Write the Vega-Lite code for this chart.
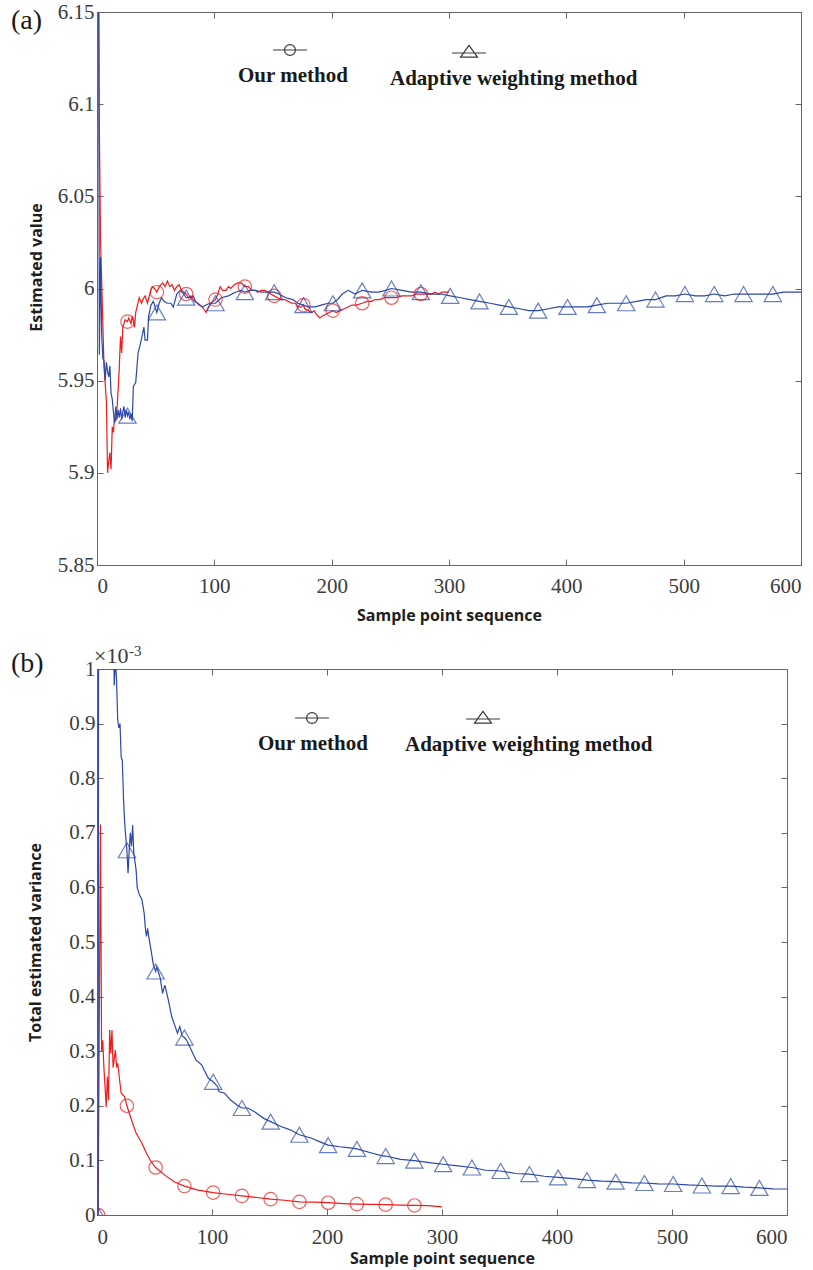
{
  "$schema": "https://vega.github.io/schema/vega-lite/v6.json",
  "padding": {"left": 10, "top": 0, "right": 5, "bottom": 0},
  "spacing": 19,
  "config": {
    "view": {"stroke": "#666", "strokeWidth": 1},
    "axis": {"labelFont": "Liberation Serif", "labelFontSize": 21, "labelColor": "#3c3c3c", "titleFont": "Open Sans", "titleFontSize": 16, "titleFontWeight": "bold", "titleColor": "#1e1e1e", "domainColor": "#666", "tickColor": "#666", "tickSize": -6, "grid": false},
    "style": {"guide-label": {"lineHeight": 52}},
    "legend": {"title": null, "orient": "none", "padding": 0, "symbolSize": 1156, "symbolStrokeColor": "#3a3a3a", "symbolFillColor": "transparent", "symbolStrokeWidth": 1.2, "symbolOpacity": 1, "labelFont": "Liberation Serif", "labelFontSize": 21, "labelFontWeight": "bold", "labelColor": "#1a1a1a", "labelBaseline": "line-top", "labelAlign": "left", "labelLimit": 0}
  },
  "datasets": {
    "a": [
      {"method": "Our method", "x": 1, "y": 6.22},
      {"method": "Our method", "x": 2, "y": 6.086},
      {"method": "Our method", "x": 3, "y": 6.027},
      {"method": "Our method", "x": 6, "y": 5.957},
      {"method": "Our method", "x": 8, "y": 5.939},
      {"method": "Our method", "x": 9, "y": 5.9},
      {"method": "Our method", "x": 10, "y": 5.906},
      {"method": "Our method", "x": 11, "y": 5.911},
      {"method": "Our method", "x": 12, "y": 5.902},
      {"method": "Our method", "x": 13, "y": 5.925},
      {"method": "Our method", "x": 14, "y": 5.922},
      {"method": "Our method", "x": 15, "y": 5.93},
      {"method": "Our method", "x": 16, "y": 5.928},
      {"method": "Our method", "x": 17, "y": 5.934},
      {"method": "Our method", "x": 18, "y": 5.945},
      {"method": "Our method", "x": 19, "y": 5.957},
      {"method": "Our method", "x": 20, "y": 5.974},
      {"method": "Our method", "x": 21, "y": 5.965},
      {"method": "Our method", "x": 22, "y": 5.979},
      {"method": "Our method", "x": 24, "y": 5.983},
      {"method": "Our method", "x": 26, "y": 5.982},
      {"method": "Our method", "x": 27, "y": 5.984},
      {"method": "Our method", "x": 29, "y": 5.981},
      {"method": "Our method", "x": 30, "y": 5.985},
      {"method": "Our method", "x": 32, "y": 5.979},
      {"method": "Our method", "x": 33, "y": 5.987},
      {"method": "Our method", "x": 36, "y": 5.995},
      {"method": "Our method", "x": 38, "y": 5.992},
      {"method": "Our method", "x": 39, "y": 5.994},
      {"method": "Our method", "x": 41, "y": 5.996},
      {"method": "Our method", "x": 43, "y": 5.992},
      {"method": "Our method", "x": 45, "y": 5.997},
      {"method": "Our method", "x": 47, "y": 6.001},
      {"method": "Our method", "x": 49, "y": 6.0},
      {"method": "Our method", "x": 51, "y": 5.998},
      {"method": "Our method", "x": 53, "y": 6.001},
      {"method": "Our method", "x": 56, "y": 6.003},
      {"method": "Our method", "x": 58, "y": 6.001},
      {"method": "Our method", "x": 60, "y": 6.004},
      {"method": "Our method", "x": 62, "y": 6.001},
      {"method": "Our method", "x": 64, "y": 6.002},
      {"method": "Our method", "x": 66, "y": 5.999},
      {"method": "Our method", "x": 68, "y": 6.001},
      {"method": "Our method", "x": 70, "y": 6.002},
      {"method": "Our method", "x": 72, "y": 5.999},
      {"method": "Our method", "x": 74, "y": 5.998},
      {"method": "Our method", "x": 76, "y": 5.997},
      {"method": "Our method", "x": 78, "y": 5.995},
      {"method": "Our method", "x": 80, "y": 5.996},
      {"method": "Our method", "x": 83, "y": 5.993},
      {"method": "Our method", "x": 86, "y": 5.992},
      {"method": "Our method", "x": 88, "y": 5.991},
      {"method": "Our method", "x": 91, "y": 5.989},
      {"method": "Our method", "x": 93, "y": 5.987},
      {"method": "Our method", "x": 95, "y": 5.99},
      {"method": "Our method", "x": 97, "y": 5.992},
      {"method": "Our method", "x": 99, "y": 5.993},
      {"method": "Our method", "x": 101, "y": 5.994},
      {"method": "Our method", "x": 103, "y": 5.997},
      {"method": "Our method", "x": 105, "y": 6.001},
      {"method": "Our method", "x": 107, "y": 5.999},
      {"method": "Our method", "x": 110, "y": 5.999},
      {"method": "Our method", "x": 112, "y": 6.001},
      {"method": "Our method", "x": 114, "y": 6.0},
      {"method": "Our method", "x": 117, "y": 6.002},
      {"method": "Our method", "x": 120, "y": 6.003},
      {"method": "Our method", "x": 123, "y": 6.003},
      {"method": "Our method", "x": 126, "y": 6.001},
      {"method": "Our method", "x": 129, "y": 6.001},
      {"method": "Our method", "x": 132, "y": 5.999},
      {"method": "Our method", "x": 135, "y": 5.999},
      {"method": "Our method", "x": 137, "y": 5.998},
      {"method": "Our method", "x": 140, "y": 5.999},
      {"method": "Our method", "x": 143, "y": 5.999},
      {"method": "Our method", "x": 146, "y": 5.998},
      {"method": "Our method", "x": 148, "y": 5.997},
      {"method": "Our method", "x": 151, "y": 5.996},
      {"method": "Our method", "x": 154, "y": 5.995},
      {"method": "Our method", "x": 157, "y": 5.994},
      {"method": "Our method", "x": 160, "y": 5.994},
      {"method": "Our method", "x": 163, "y": 5.993},
      {"method": "Our method", "x": 166, "y": 5.992},
      {"method": "Our method", "x": 169, "y": 5.992},
      {"method": "Our method", "x": 171, "y": 5.99},
      {"method": "Our method", "x": 174, "y": 5.99},
      {"method": "Our method", "x": 176, "y": 5.991},
      {"method": "Our method", "x": 177, "y": 5.989},
      {"method": "Our method", "x": 180, "y": 5.988},
      {"method": "Our method", "x": 183, "y": 5.987},
      {"method": "Our method", "x": 185, "y": 5.988},
      {"method": "Our method", "x": 187, "y": 5.986},
      {"method": "Our method", "x": 190, "y": 5.984},
      {"method": "Our method", "x": 192, "y": 5.985},
      {"method": "Our method", "x": 195, "y": 5.986},
      {"method": "Our method", "x": 198, "y": 5.987},
      {"method": "Our method", "x": 201, "y": 5.988},
      {"method": "Our method", "x": 204, "y": 5.987},
      {"method": "Our method", "x": 207, "y": 5.988},
      {"method": "Our method", "x": 211, "y": 5.989},
      {"method": "Our method", "x": 214, "y": 5.99},
      {"method": "Our method", "x": 217, "y": 5.991},
      {"method": "Our method", "x": 221, "y": 5.991},
      {"method": "Our method", "x": 226, "y": 5.992},
      {"method": "Our method", "x": 230, "y": 5.993},
      {"method": "Our method", "x": 234, "y": 5.993},
      {"method": "Our method", "x": 237, "y": 5.994},
      {"method": "Our method", "x": 241, "y": 5.994},
      {"method": "Our method", "x": 245, "y": 5.995},
      {"method": "Our method", "x": 249, "y": 5.995},
      {"method": "Our method", "x": 251, "y": 5.995},
      {"method": "Our method", "x": 255, "y": 5.995},
      {"method": "Our method", "x": 260, "y": 5.996},
      {"method": "Our method", "x": 264, "y": 5.996},
      {"method": "Our method", "x": 268, "y": 5.996},
      {"method": "Our method", "x": 272, "y": 5.997},
      {"method": "Our method", "x": 276, "y": 5.997},
      {"method": "Our method", "x": 280, "y": 5.997},
      {"method": "Our method", "x": 285, "y": 5.997},
      {"method": "Our method", "x": 288, "y": 5.998},
      {"method": "Our method", "x": 291, "y": 5.997},
      {"method": "Our method", "x": 294, "y": 5.998},
      {"method": "Our method", "x": 297, "y": 5.998},
      {"method": "Our method", "x": 300, "y": 5.998},
      {"method": "Adaptive weighting method", "x": 1, "y": 6.3},
      {"method": "Adaptive weighting method", "x": 2, "y": 5.964},
      {"method": "Adaptive weighting method", "x": 3, "y": 6.017},
      {"method": "Adaptive weighting method", "x": 4, "y": 5.975},
      {"method": "Adaptive weighting method", "x": 5, "y": 5.962},
      {"method": "Adaptive weighting method", "x": 6, "y": 5.961},
      {"method": "Adaptive weighting method", "x": 7, "y": 5.95},
      {"method": "Adaptive weighting method", "x": 8, "y": 5.96},
      {"method": "Adaptive weighting method", "x": 9, "y": 5.955},
      {"method": "Adaptive weighting method", "x": 10, "y": 5.952},
      {"method": "Adaptive weighting method", "x": 11, "y": 5.958},
      {"method": "Adaptive weighting method", "x": 12, "y": 5.943},
      {"method": "Adaptive weighting method", "x": 13, "y": 5.94},
      {"method": "Adaptive weighting method", "x": 14, "y": 5.933},
      {"method": "Adaptive weighting method", "x": 15, "y": 5.927},
      {"method": "Adaptive weighting method", "x": 16, "y": 5.936},
      {"method": "Adaptive weighting method", "x": 17, "y": 5.929},
      {"method": "Adaptive weighting method", "x": 18, "y": 5.934},
      {"method": "Adaptive weighting method", "x": 19, "y": 5.93},
      {"method": "Adaptive weighting method", "x": 20, "y": 5.935},
      {"method": "Adaptive weighting method", "x": 21, "y": 5.929},
      {"method": "Adaptive weighting method", "x": 22, "y": 5.933},
      {"method": "Adaptive weighting method", "x": 23, "y": 5.936},
      {"method": "Adaptive weighting method", "x": 24, "y": 5.93},
      {"method": "Adaptive weighting method", "x": 25, "y": 5.934},
      {"method": "Adaptive weighting method", "x": 26, "y": 5.931},
      {"method": "Adaptive weighting method", "x": 27, "y": 5.933},
      {"method": "Adaptive weighting method", "x": 28, "y": 5.929},
      {"method": "Adaptive weighting method", "x": 29, "y": 5.932},
      {"method": "Adaptive weighting method", "x": 30, "y": 5.928},
      {"method": "Adaptive weighting method", "x": 31, "y": 5.947},
      {"method": "Adaptive weighting method", "x": 33, "y": 5.949},
      {"method": "Adaptive weighting method", "x": 35, "y": 5.965},
      {"method": "Adaptive weighting method", "x": 37, "y": 5.97},
      {"method": "Adaptive weighting method", "x": 40, "y": 5.979},
      {"method": "Adaptive weighting method", "x": 41, "y": 5.972},
      {"method": "Adaptive weighting method", "x": 43, "y": 5.972},
      {"method": "Adaptive weighting method", "x": 44, "y": 5.985},
      {"method": "Adaptive weighting method", "x": 46, "y": 5.991},
      {"method": "Adaptive weighting method", "x": 48, "y": 5.993},
      {"method": "Adaptive weighting method", "x": 51, "y": 5.987},
      {"method": "Adaptive weighting method", "x": 53, "y": 5.992},
      {"method": "Adaptive weighting method", "x": 55, "y": 5.995},
      {"method": "Adaptive weighting method", "x": 57, "y": 5.993},
      {"method": "Adaptive weighting method", "x": 60, "y": 5.992},
      {"method": "Adaptive weighting method", "x": 63, "y": 5.992},
      {"method": "Adaptive weighting method", "x": 65, "y": 5.99},
      {"method": "Adaptive weighting method", "x": 68, "y": 5.997},
      {"method": "Adaptive weighting method", "x": 71, "y": 5.999},
      {"method": "Adaptive weighting method", "x": 74, "y": 5.997},
      {"method": "Adaptive weighting method", "x": 76, "y": 5.995},
      {"method": "Adaptive weighting method", "x": 79, "y": 5.995},
      {"method": "Adaptive weighting method", "x": 82, "y": 5.996},
      {"method": "Adaptive weighting method", "x": 84, "y": 5.993},
      {"method": "Adaptive weighting method", "x": 87, "y": 5.991},
      {"method": "Adaptive weighting method", "x": 90, "y": 5.99},
      {"method": "Adaptive weighting method", "x": 93, "y": 5.991},
      {"method": "Adaptive weighting method", "x": 96, "y": 5.992},
      {"method": "Adaptive weighting method", "x": 101, "y": 5.992},
      {"method": "Adaptive weighting method", "x": 106, "y": 5.995},
      {"method": "Adaptive weighting method", "x": 112, "y": 5.996},
      {"method": "Adaptive weighting method", "x": 118, "y": 5.998},
      {"method": "Adaptive weighting method", "x": 123, "y": 5.999},
      {"method": "Adaptive weighting method", "x": 126, "y": 5.998},
      {"method": "Adaptive weighting method", "x": 130, "y": 5.999},
      {"method": "Adaptive weighting method", "x": 135, "y": 5.999},
      {"method": "Adaptive weighting method", "x": 140, "y": 5.998},
      {"method": "Adaptive weighting method", "x": 146, "y": 5.998},
      {"method": "Adaptive weighting method", "x": 151, "y": 5.998},
      {"method": "Adaptive weighting method", "x": 155, "y": 5.997},
      {"method": "Adaptive weighting method", "x": 161, "y": 5.995},
      {"method": "Adaptive weighting method", "x": 167, "y": 5.994},
      {"method": "Adaptive weighting method", "x": 171, "y": 5.992},
      {"method": "Adaptive weighting method", "x": 176, "y": 5.991},
      {"method": "Adaptive weighting method", "x": 180, "y": 5.99},
      {"method": "Adaptive weighting method", "x": 186, "y": 5.99},
      {"method": "Adaptive weighting method", "x": 191, "y": 5.991},
      {"method": "Adaptive weighting method", "x": 197, "y": 5.992},
      {"method": "Adaptive weighting method", "x": 201, "y": 5.992},
      {"method": "Adaptive weighting method", "x": 205, "y": 5.994},
      {"method": "Adaptive weighting method", "x": 209, "y": 5.997},
      {"method": "Adaptive weighting method", "x": 214, "y": 5.999},
      {"method": "Adaptive weighting method", "x": 220, "y": 5.997},
      {"method": "Adaptive weighting method", "x": 226, "y": 5.999},
      {"method": "Adaptive weighting method", "x": 234, "y": 5.998},
      {"method": "Adaptive weighting method", "x": 240, "y": 5.998},
      {"method": "Adaptive weighting method", "x": 246, "y": 5.999},
      {"method": "Adaptive weighting method", "x": 251, "y": 6.0},
      {"method": "Adaptive weighting method", "x": 260, "y": 5.999},
      {"method": "Adaptive weighting method", "x": 268, "y": 5.998},
      {"method": "Adaptive weighting method", "x": 276, "y": 5.998},
      {"method": "Adaptive weighting method", "x": 285, "y": 5.997},
      {"method": "Adaptive weighting method", "x": 293, "y": 5.997},
      {"method": "Adaptive weighting method", "x": 301, "y": 5.996},
      {"method": "Adaptive weighting method", "x": 310, "y": 5.995},
      {"method": "Adaptive weighting method", "x": 318, "y": 5.994},
      {"method": "Adaptive weighting method", "x": 326, "y": 5.993},
      {"method": "Adaptive weighting method", "x": 335, "y": 5.992},
      {"method": "Adaptive weighting method", "x": 343, "y": 5.991},
      {"method": "Adaptive weighting method", "x": 351, "y": 5.99},
      {"method": "Adaptive weighting method", "x": 360, "y": 5.989},
      {"method": "Adaptive weighting method", "x": 368, "y": 5.988},
      {"method": "Adaptive weighting method", "x": 376, "y": 5.988},
      {"method": "Adaptive weighting method", "x": 385, "y": 5.989},
      {"method": "Adaptive weighting method", "x": 393, "y": 5.99},
      {"method": "Adaptive weighting method", "x": 401, "y": 5.99},
      {"method": "Adaptive weighting method", "x": 410, "y": 5.99},
      {"method": "Adaptive weighting method", "x": 418, "y": 5.99},
      {"method": "Adaptive weighting method", "x": 426, "y": 5.991},
      {"method": "Adaptive weighting method", "x": 435, "y": 5.992},
      {"method": "Adaptive weighting method", "x": 443, "y": 5.992},
      {"method": "Adaptive weighting method", "x": 451, "y": 5.992},
      {"method": "Adaptive weighting method", "x": 460, "y": 5.993},
      {"method": "Adaptive weighting method", "x": 468, "y": 5.994},
      {"method": "Adaptive weighting method", "x": 476, "y": 5.994},
      {"method": "Adaptive weighting method", "x": 485, "y": 5.996},
      {"method": "Adaptive weighting method", "x": 493, "y": 5.996},
      {"method": "Adaptive weighting method", "x": 501, "y": 5.997},
      {"method": "Adaptive weighting method", "x": 510, "y": 5.996},
      {"method": "Adaptive weighting method", "x": 518, "y": 5.996},
      {"method": "Adaptive weighting method", "x": 526, "y": 5.997},
      {"method": "Adaptive weighting method", "x": 535, "y": 5.996},
      {"method": "Adaptive weighting method", "x": 543, "y": 5.997},
      {"method": "Adaptive weighting method", "x": 551, "y": 5.997},
      {"method": "Adaptive weighting method", "x": 560, "y": 5.997},
      {"method": "Adaptive weighting method", "x": 568, "y": 5.997},
      {"method": "Adaptive weighting method", "x": 576, "y": 5.997},
      {"method": "Adaptive weighting method", "x": 585, "y": 5.998},
      {"method": "Adaptive weighting method", "x": 593, "y": 5.998},
      {"method": "Adaptive weighting method", "x": 600, "y": 5.998}
    ],
    "b": [
      {"method": "Our method", "x": 1, "y": 0},
      {"method": "Our method", "x": 3, "y": 0.715},
      {"method": "Our method", "x": 4, "y": 0.3},
      {"method": "Our method", "x": 5, "y": 0.32},
      {"method": "Our method", "x": 6, "y": 0.27},
      {"method": "Our method", "x": 8, "y": 0.198},
      {"method": "Our method", "x": 9, "y": 0.253},
      {"method": "Our method", "x": 10, "y": 0.21},
      {"method": "Our method", "x": 11, "y": 0.339},
      {"method": "Our method", "x": 12, "y": 0.296},
      {"method": "Our method", "x": 13, "y": 0.339},
      {"method": "Our method", "x": 14, "y": 0.27},
      {"method": "Our method", "x": 16, "y": 0.302},
      {"method": "Our method", "x": 17, "y": 0.27},
      {"method": "Our method", "x": 18, "y": 0.278},
      {"method": "Our method", "x": 21, "y": 0.223},
      {"method": "Our method", "x": 24, "y": 0.217},
      {"method": "Our method", "x": 26, "y": 0.2},
      {"method": "Our method", "x": 30, "y": 0.174},
      {"method": "Our method", "x": 34, "y": 0.15},
      {"method": "Our method", "x": 39, "y": 0.132},
      {"method": "Our method", "x": 43, "y": 0.113},
      {"method": "Our method", "x": 47, "y": 0.098},
      {"method": "Our method", "x": 51, "y": 0.087},
      {"method": "Our method", "x": 59, "y": 0.073},
      {"method": "Our method", "x": 67, "y": 0.061},
      {"method": "Our method", "x": 76, "y": 0.053},
      {"method": "Our method", "x": 87, "y": 0.046},
      {"method": "Our method", "x": 101, "y": 0.041},
      {"method": "Our method", "x": 113, "y": 0.038},
      {"method": "Our method", "x": 126, "y": 0.035},
      {"method": "Our method", "x": 139, "y": 0.032},
      {"method": "Our method", "x": 151, "y": 0.029},
      {"method": "Our method", "x": 163, "y": 0.027},
      {"method": "Our method", "x": 176, "y": 0.024},
      {"method": "Our method", "x": 189, "y": 0.0235},
      {"method": "Our method", "x": 201, "y": 0.0225},
      {"method": "Our method", "x": 214, "y": 0.021},
      {"method": "Our method", "x": 226, "y": 0.02},
      {"method": "Our method", "x": 239, "y": 0.0195},
      {"method": "Our method", "x": 251, "y": 0.019},
      {"method": "Our method", "x": 264, "y": 0.018},
      {"method": "Our method", "x": 276, "y": 0.0175},
      {"method": "Our method", "x": 288, "y": 0.017},
      {"method": "Our method", "x": 300, "y": 0.015},
      {"method": "Adaptive weighting method", "x": 1, "y": 0},
      {"method": "Adaptive weighting method", "x": 2, "y": 3.0},
      {"method": "Adaptive weighting method", "x": 14, "y": 1.1},
      {"method": "Adaptive weighting method", "x": 15, "y": 0.97},
      {"method": "Adaptive weighting method", "x": 16, "y": 1.02},
      {"method": "Adaptive weighting method", "x": 17, "y": 0.98},
      {"method": "Adaptive weighting method", "x": 18, "y": 0.907},
      {"method": "Adaptive weighting method", "x": 19, "y": 0.892},
      {"method": "Adaptive weighting method", "x": 20, "y": 0.9},
      {"method": "Adaptive weighting method", "x": 21, "y": 0.839},
      {"method": "Adaptive weighting method", "x": 22, "y": 0.833},
      {"method": "Adaptive weighting method", "x": 23, "y": 0.766},
      {"method": "Adaptive weighting method", "x": 24, "y": 0.72},
      {"method": "Adaptive weighting method", "x": 25, "y": 0.693},
      {"method": "Adaptive weighting method", "x": 26, "y": 0.668},
      {"method": "Adaptive weighting method", "x": 27, "y": 0.626},
      {"method": "Adaptive weighting method", "x": 28, "y": 0.668},
      {"method": "Adaptive weighting method", "x": 29, "y": 0.7},
      {"method": "Adaptive weighting method", "x": 30, "y": 0.675},
      {"method": "Adaptive weighting method", "x": 31, "y": 0.714},
      {"method": "Adaptive weighting method", "x": 32, "y": 0.663},
      {"method": "Adaptive weighting method", "x": 34, "y": 0.632},
      {"method": "Adaptive weighting method", "x": 35, "y": 0.599},
      {"method": "Adaptive weighting method", "x": 37, "y": 0.586},
      {"method": "Adaptive weighting method", "x": 39, "y": 0.578},
      {"method": "Adaptive weighting method", "x": 41, "y": 0.553},
      {"method": "Adaptive weighting method", "x": 42, "y": 0.526},
      {"method": "Adaptive weighting method", "x": 43, "y": 0.51},
      {"method": "Adaptive weighting method", "x": 44, "y": 0.525},
      {"method": "Adaptive weighting method", "x": 45, "y": 0.51},
      {"method": "Adaptive weighting method", "x": 47, "y": 0.485},
      {"method": "Adaptive weighting method", "x": 49, "y": 0.458},
      {"method": "Adaptive weighting method", "x": 51, "y": 0.446},
      {"method": "Adaptive weighting method", "x": 52, "y": 0.454},
      {"method": "Adaptive weighting method", "x": 55, "y": 0.434},
      {"method": "Adaptive weighting method", "x": 57, "y": 0.406},
      {"method": "Adaptive weighting method", "x": 59, "y": 0.421},
      {"method": "Adaptive weighting method", "x": 62, "y": 0.394},
      {"method": "Adaptive weighting method", "x": 65, "y": 0.363},
      {"method": "Adaptive weighting method", "x": 68, "y": 0.345},
      {"method": "Adaptive weighting method", "x": 70, "y": 0.333},
      {"method": "Adaptive weighting method", "x": 72, "y": 0.345},
      {"method": "Adaptive weighting method", "x": 74, "y": 0.328},
      {"method": "Adaptive weighting method", "x": 76, "y": 0.325},
      {"method": "Adaptive weighting method", "x": 78, "y": 0.32},
      {"method": "Adaptive weighting method", "x": 82, "y": 0.302},
      {"method": "Adaptive weighting method", "x": 86, "y": 0.284},
      {"method": "Adaptive weighting method", "x": 91, "y": 0.275},
      {"method": "Adaptive weighting method", "x": 93, "y": 0.266},
      {"method": "Adaptive weighting method", "x": 97, "y": 0.25},
      {"method": "Adaptive weighting method", "x": 101, "y": 0.244},
      {"method": "Adaptive weighting method", "x": 105, "y": 0.235},
      {"method": "Adaptive weighting method", "x": 106, "y": 0.226},
      {"method": "Adaptive weighting method", "x": 111, "y": 0.223},
      {"method": "Adaptive weighting method", "x": 116, "y": 0.211},
      {"method": "Adaptive weighting method", "x": 122, "y": 0.201},
      {"method": "Adaptive weighting method", "x": 126, "y": 0.196},
      {"method": "Adaptive weighting method", "x": 131, "y": 0.196},
      {"method": "Adaptive weighting method", "x": 137, "y": 0.189},
      {"method": "Adaptive weighting method", "x": 145, "y": 0.177},
      {"method": "Adaptive weighting method", "x": 151, "y": 0.171},
      {"method": "Adaptive weighting method", "x": 160, "y": 0.162},
      {"method": "Adaptive weighting method", "x": 168, "y": 0.156},
      {"method": "Adaptive weighting method", "x": 176, "y": 0.147},
      {"method": "Adaptive weighting method", "x": 186, "y": 0.141},
      {"method": "Adaptive weighting method", "x": 194, "y": 0.134},
      {"method": "Adaptive weighting method", "x": 201, "y": 0.128},
      {"method": "Adaptive weighting method", "x": 211, "y": 0.125},
      {"method": "Adaptive weighting method", "x": 220, "y": 0.123},
      {"method": "Adaptive weighting method", "x": 226, "y": 0.121},
      {"method": "Adaptive weighting method", "x": 238, "y": 0.114},
      {"method": "Adaptive weighting method", "x": 249, "y": 0.108},
      {"method": "Adaptive weighting method", "x": 251, "y": 0.108},
      {"method": "Adaptive weighting method", "x": 264, "y": 0.102},
      {"method": "Adaptive weighting method", "x": 276, "y": 0.0995},
      {"method": "Adaptive weighting method", "x": 289, "y": 0.096},
      {"method": "Adaptive weighting method", "x": 301, "y": 0.093},
      {"method": "Adaptive weighting method", "x": 314, "y": 0.09},
      {"method": "Adaptive weighting method", "x": 326, "y": 0.087},
      {"method": "Adaptive weighting method", "x": 338, "y": 0.082},
      {"method": "Adaptive weighting method", "x": 351, "y": 0.0806},
      {"method": "Adaptive weighting method", "x": 364, "y": 0.076},
      {"method": "Adaptive weighting method", "x": 376, "y": 0.075},
      {"method": "Adaptive weighting method", "x": 389, "y": 0.071},
      {"method": "Adaptive weighting method", "x": 401, "y": 0.069},
      {"method": "Adaptive weighting method", "x": 414, "y": 0.0665},
      {"method": "Adaptive weighting method", "x": 426, "y": 0.064},
      {"method": "Adaptive weighting method", "x": 439, "y": 0.062},
      {"method": "Adaptive weighting method", "x": 451, "y": 0.061},
      {"method": "Adaptive weighting method", "x": 465, "y": 0.059},
      {"method": "Adaptive weighting method", "x": 476, "y": 0.0586},
      {"method": "Adaptive weighting method", "x": 488, "y": 0.057},
      {"method": "Adaptive weighting method", "x": 501, "y": 0.0568},
      {"method": "Adaptive weighting method", "x": 514, "y": 0.055},
      {"method": "Adaptive weighting method", "x": 526, "y": 0.054},
      {"method": "Adaptive weighting method", "x": 539, "y": 0.053},
      {"method": "Adaptive weighting method", "x": 551, "y": 0.053},
      {"method": "Adaptive weighting method", "x": 563, "y": 0.051},
      {"method": "Adaptive weighting method", "x": 576, "y": 0.0495},
      {"method": "Adaptive weighting method", "x": 588, "y": 0.048},
      {"method": "Adaptive weighting method", "x": 600, "y": 0.0476}
    ]
  },
  "vconcat": [
    {
      "width": 704,
      "height": 553,
      "data": {"name": "a"},
      "title": {"text": "(a)", "anchor": "start", "frame": "group", "offset": 0, "dx": -86, "dy": 34, "font": "Liberation Serif", "fontSize": 28, "fontWeight": "normal", "color": "#1a1a1a"},
      "layer": [
        {
          "mark": {"type": "line", "clip": true, "strokeWidth": 1.2},
          "encoding": {
            "x": {"field": "x", "type": "quantitative", "scale": {"domain": [0, 600], "nice": false, "zero": false}, "axis": {"orient": "bottom", "values": [0, 100, 200, 300, 400, 500, 600], "title": "Sample point sequence", "labelPadding": 16, "titlePadding": 11}},
            "y": {"field": "y", "type": "quantitative", "scale": {"domain": [5.85, 6.15], "nice": false, "zero": false}, "axis": {"orient": "left", "values": [5.85, 5.9, 5.95, 6, 6.05, 6.1, 6.15], "format": "~g", "title": "Estimated value", "labelPadding": 9, "titlePadding": 13, "titleY": 255}},
            "color": {"field": "method", "type": "nominal", "scale": {"domain": ["Our method", "Adaptive weighting method"], "range": ["#f01b1b", "#2b47a8"]}, "legend": null}
          }
        },
        {
          "transform": [{"filter": "datum.method == 'Our method' && datum.x % 25 == 1"}],
          "mark": {"type": "point", "shape": "circle", "filled": false, "size": 180, "strokeWidth": 1.2, "color": "#f01b1b", "clip": true},
          "encoding": {
            "x": {"field": "x", "type": "quantitative", "axis": {"orient": "top", "values": [0, 100, 200, 300, 400, 500, 600], "labels": false, "title": null, "domain": false}},
            "y": {"field": "y", "type": "quantitative", "axis": {"orient": "right", "values": [5.85, 5.9, 5.95, 6, 6.05, 6.1, 6.15], "labels": false, "title": null, "domain": false}}
          }
        },
        {
          "transform": [{"filter": "datum.method == 'Adaptive weighting method' && datum.x % 25 == 1"}],
          "mark": {"type": "point", "shape": "triangle-up", "filled": false, "size": 300, "strokeWidth": 1.2, "color": "#2b47a8", "clip": true},
          "encoding": {
            "x": {"field": "x", "type": "quantitative", "axis": null},
            "y": {"field": "y", "type": "quantitative", "axis": null}
          }
        },
        {
          "transform": [{"filter": "datum.method == 'Our method' && datum.x == 26"}],
          "mark": {"type": "point", "opacity": 0, "filled": false, "color": "#3a3a3a", "strokeWidth": 1.2},
          "encoding": {
            "x": {"field": "x", "type": "quantitative", "axis": null},
            "y": {"field": "y", "type": "quantitative", "axis": null},
            "shape": {"field": "method", "type": "nominal", "scale": {"domain": ["Our method"], "range": ["M-1,0L1,0M-0.32,0A0.32,0.32,0,1,0,0.32,0A0.32,0.32,0,1,0,-0.32,0"]}, "legend": {"legendX": 175, "legendY": 20, "labelOffset": -70}}
          }
        },
        {
          "transform": [{"filter": "datum.method == 'Adaptive weighting method' && datum.x == 26"}],
          "mark": {"type": "point", "opacity": 0, "filled": false, "color": "#3a3a3a", "strokeWidth": 1.2},
          "encoding": {
            "x": {"field": "x", "type": "quantitative", "axis": null},
            "y": {"field": "y", "type": "quantitative", "axis": null},
            "shape": {"field": "method", "type": "nominal", "scale": {"domain": ["Adaptive weighting method"], "range": ["M-1,0L1,0M0,-0.45L0.5,0.24L-0.5,0.24Z"]}, "legend": {"legendX": 354, "legendY": 23, "labelOffset": -97}}
          }
        }
      ],
      "resolve": {"axis": {"x": "independent", "y": "independent"}, "scale": {"shape": "independent"}, "legend": {"shape": "independent"}}
    },
    {
      "width": 690,
      "height": 546,
      "data": {"name": "b"},
      "title": {"text": "(b)", "anchor": "start", "frame": "group", "offset": 0, "dx": -86, "dy": 34, "font": "Liberation Serif", "fontSize": 28, "fontWeight": "normal", "color": "#1a1a1a"},
      "layer": [
        {
          "mark": {"type": "line", "clip": true, "strokeWidth": 1.2},
          "encoding": {
            "x": {"field": "x", "type": "quantitative", "scale": {"domain": [0, 600], "nice": false, "zero": false}, "axis": {"orient": "bottom", "values": [0, 100, 200, 300, 400, 500, 600], "title": "Sample point sequence", "labelPadding": 17, "titlePadding": 3}},
            "y": {"field": "y", "type": "quantitative", "scale": {"domain": [0, 1], "nice": false, "zero": false}, "axis": {"orient": "left", "values": [0, 0.1, 0.2, 0.3, 0.4, 0.5, 0.6, 0.7, 0.8, 0.9, 1], "format": "~g", "title": "Total estimated variance", "labelPadding": 8, "titlePadding": 25}},
            "color": {"field": "method", "type": "nominal", "scale": {"domain": ["Our method", "Adaptive weighting method"], "range": ["#f01b1b", "#2b47a8"]}, "legend": null}
          }
        },
        {
          "transform": [{"filter": "datum.method == 'Our method' && datum.x % 25 == 1"}],
          "mark": {"type": "point", "shape": "circle", "filled": false, "size": 180, "strokeWidth": 1.2, "color": "#f01b1b", "clip": true},
          "encoding": {
            "x": {"field": "x", "type": "quantitative", "axis": {"orient": "top", "values": [0, 100, 200, 300, 400, 500, 600], "labels": false, "title": null, "domain": false}},
            "y": {"field": "y", "type": "quantitative", "axis": {"orient": "right", "values": [0, 0.1, 0.2, 0.3, 0.4, 0.5, 0.6, 0.7, 0.8, 0.9, 1], "labels": false, "title": null, "domain": false}}
          }
        },
        {
          "transform": [{"filter": "datum.method == 'Adaptive weighting method' && datum.x % 25 == 1"}],
          "mark": {"type": "point", "shape": "triangle-up", "filled": false, "size": 300, "strokeWidth": 1.2, "color": "#2b47a8", "clip": true},
          "encoding": {
            "x": {"field": "x", "type": "quantitative", "axis": null},
            "y": {"field": "y", "type": "quantitative", "axis": null}
          }
        },
        {
          "transform": [{"filter": "datum.method == 'Our method' && datum.x == 26"}],
          "mark": {"type": "point", "opacity": 0, "filled": false, "color": "#3a3a3a", "strokeWidth": 1.2},
          "encoding": {
            "x": {"field": "x", "type": "quantitative", "axis": null},
            "y": {"field": "y", "type": "quantitative", "axis": null},
            "shape": {"field": "method", "type": "nominal", "scale": {"domain": ["Our method"], "range": ["M-1,0L1,0M-0.32,0A0.32,0.32,0,1,0,0.32,0A0.32,0.32,0,1,0,-0.32,0"]}, "legend": {"legendX": 197, "legendY": 31, "labelOffset": -72}}
          }
        },
        {
          "transform": [{"filter": "datum.method == 'Adaptive weighting method' && datum.x == 26"}],
          "mark": {"type": "point", "opacity": 0, "filled": false, "color": "#3a3a3a", "strokeWidth": 1.2},
          "encoding": {
            "x": {"field": "x", "type": "quantitative", "axis": null},
            "y": {"field": "y", "type": "quantitative", "axis": null},
            "shape": {"field": "method", "type": "nominal", "scale": {"domain": ["Adaptive weighting method"], "range": ["M-1,0L1,0M0,-0.45L0.5,0.24L-0.5,0.24Z"]}, "legend": {"legendX": 368, "legendY": 32, "labelOffset": -96}}
          }
        },
        {
          "data": {"values": [{}]},
          "mark": {"type": "text", "text": "×10", "align": "left", "baseline": "alphabetic", "dx": -3, "dy": -6, "font": "Liberation Serif", "fontSize": 22, "color": "#3c3c3c"},
          "encoding": {
            "x": {"datum": 0, "type": "quantitative", "axis": null},
            "y": {"datum": 1, "type": "quantitative", "axis": null}
          }
        },
        {
          "data": {"values": [{}]},
          "mark": {"type": "text", "text": "-3", "align": "left", "baseline": "alphabetic", "dx": 32, "dy": -13, "font": "Liberation Serif", "fontSize": 15, "color": "#3c3c3c"},
          "encoding": {
            "x": {"datum": 0, "type": "quantitative", "axis": null},
            "y": {"datum": 1, "type": "quantitative", "axis": null}
          }
        }
      ],
      "resolve": {"axis": {"x": "independent", "y": "independent"}, "scale": {"shape": "independent"}, "legend": {"shape": "independent"}}
    }
  ]
}
